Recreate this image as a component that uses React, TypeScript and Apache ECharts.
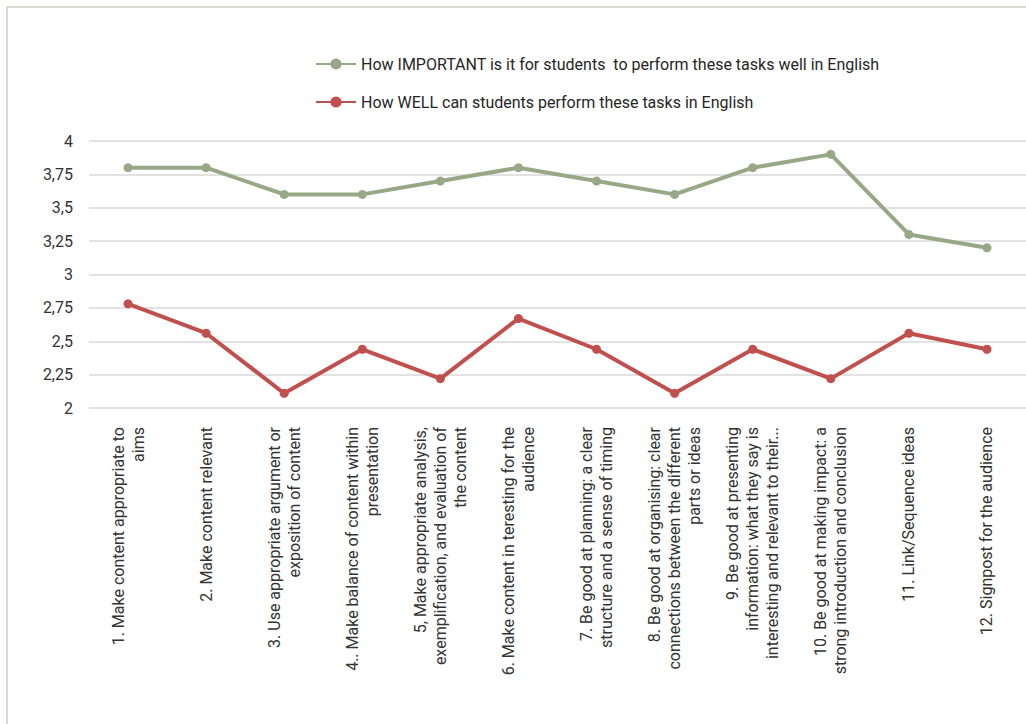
import React, { useEffect, useRef } from "react";
import * as echarts from "echarts";

const categories: string[] = [
  "1. Make content appropriate to\naims",
  "2. Make content relevant",
  "3. Use appropriate argument or\nexposition of content",
  "4.. Make balance of content within\npresentation",
  "5, Make appropriate analysis,\nexemplification, and evaluation of\nthe content",
  "6. Make content in teresting for the\naudience",
  "7. Be good at planning: a clear\nstructure and a sense of timing",
  "8. Be good at organising: clear\nconnections between the different\nparts or ideas",
  "9. Be good at presenting\ninformation: what they say is\ninteresting and relevant to their...",
  "10. Be good at making impact: a\nstrong introduction and conclusion",
  "11. Link/Sequence ideas",
  "12. Signpost for the audience",
];

const importantName = "How IMPORTANT is it for students  to perform these tasks well in English";
const wellName = "How WELL can students perform these tasks in English";

const importantValues: number[] = [3.8, 3.8, 3.6, 3.6, 3.7, 3.8, 3.7, 3.6, 3.8, 3.9, 3.3, 3.2];
const wellValues: number[] = [2.78, 2.56, 2.11, 2.44, 2.22, 2.67, 2.44, 2.11, 2.44, 2.22, 2.56, 2.44];

const yMin = 2;
const yMax = 4;
const yInterval = 0.25;

const GREEN = "#98a887";
const RED = "#c0504d";
const FONT = "Roboto";

export default function App() {
  const ref = useRef<HTMLDivElement>(null);
  useEffect(() => {
    if (!ref.current) return;
    const chart = echarts.init(ref.current, null, { renderer: "svg" });
    chart.setOption({
      animation: false,
      backgroundColor: "#ffffff",
      textStyle: { fontFamily: FONT },
      graphic: [
        {
          type: "line",
          shape: { x1: 7, y1: 7, x2: 7, y2: 724 },
          style: { stroke: "#c9d1c1", lineWidth: 1.5 },
        },
        {
          type: "line",
          shape: { x1: 7, y1: 7, x2: 1026, y2: 7 },
          style: { stroke: "#c9d1c1", lineWidth: 1.5 },
        },
      ],
      legend: {
        orient: "vertical",
        left: 310,
        top: 51,
        itemWidth: 40,
        itemHeight: 14,
        itemGap: 22,
        textStyle: { fontFamily: FONT, fontSize: 16, color: "#262626" },
        data: [importantName, wellName],
      },
      grid: { left: 89, top: 141, width: 939, height: 267 },
      xAxis: {
        type: "category",
        data: categories,
        boundaryGap: true,
        axisLine: { show: false },
        axisTick: { show: false },
        axisLabel: {
          rotate: 90,
          interval: 0,
          margin: 19,
          fontFamily: FONT,
          fontSize: 16,
          lineHeight: 20,
          color: "#333333",
        },
      },
      yAxis: {
        type: "value",
        min: yMin,
        max: yMax,
        interval: yInterval,
        axisLine: { show: false },
        axisTick: { show: false },
        splitLine: { lineStyle: { color: "#d9d9d9", width: 1.5 } },
        axisLabel: {
          margin: 16,
          fontFamily: FONT,
          fontSize: 16,
          color: "#333333",
          formatter: (v: number) => String(Math.round(v * 100) / 100).replace(".", ","),
        },
      },
      series: [
        {
          name: importantName,
          type: "line",
          data: importantValues,
          symbol: "circle",
          symbolSize: 9,
          lineStyle: { color: GREEN, width: 4 },
          itemStyle: { color: GREEN },
        },
        {
          name: wellName,
          type: "line",
          data: wellValues,
          symbol: "circle",
          symbolSize: 9,
          lineStyle: { color: RED, width: 4 },
          itemStyle: { color: RED },
        },
      ],
    });
    return () => chart.dispose();
  }, []);
  return (
    <div
      ref={ref}
      style={{ position: "fixed", left: 0, top: 0, width: 1026, height: 724 }}
    />
  );
}
